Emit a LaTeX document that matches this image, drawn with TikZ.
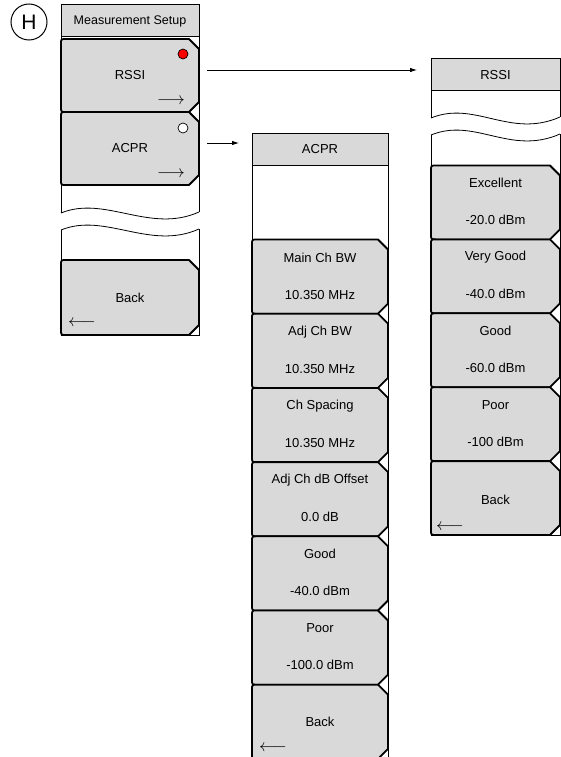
\documentclass[tikz,border=0pt]{standalone}
\usepackage{fontspec}
\setmainfont{Liberation Sans}
\usetikzlibrary{arrows.meta}
\definecolor{keygray}{RGB}{217,217,217}
% soft key: #1 left x, #2 top y, #3 right x, #4 bottom y
\newcommand{\softkey}[4]{%
  \filldraw[keyline] (#3-10,#2) -- (#1+5,#2) .. controls (#1,#2) .. (#1,#2+5)
    -- (#1,#4-5) .. controls (#1,#4) .. (#1+5,#4) -- (#3-10,#4)
    -- (#3,#4-10) -- (#3,#2+10) -- cycle;}
\begin{document}
\begin{tikzpicture}[x=1pt,y=-1pt,
  keyline/.style={draw=black, line width=1.8pt, fill=keygray, line join=round},
  frameline/.style={draw=black, line width=0.8pt},
  wave/.style={draw=black, line width=0.8pt},
  titlebox/.style={draw=black, line width=1pt, fill=keygray, inner sep=0pt,
    font=\fontsize{13}{15}\selectfont},
  txt/.style={inner sep=0pt, font=\fontsize{13}{15}\selectfont},
  arr/.style={inner sep=0pt, font=\fontsize{17.5}{17.5}\selectfont},
  link/.style={draw=black, line width=0.8pt, -{Latex[length=7pt,width=4.5pt]}}]
\useasboundingbox (0,0) rectangle (561,757);

% H marker
\node[draw, circle, line width=1pt, minimum size=36pt, inner sep=0pt,
  font=\fontsize{21}{21}\selectfont] (hmark) at (29,22) {H};

% ---------------- Left menu: Measurement Setup ----------------
\draw[frameline] (61,37) -- (61,213);
\draw[frameline] (199,37) -- (199,212);
\draw[frameline] (61,230) -- (61,335) -- (199,335) -- (199,229);
\draw[wave] (61,213) .. controls (105,195) and (150,234) .. (199,212);
\draw[wave] (61,230) .. controls (105,212) and (150,251) .. (199,229);
\node[titlebox, minimum width=138pt, minimum height=32pt,
  font=\fontsize{12.5}{15}\selectfont] (mstitle) at (130,21) {Measurement Setup};
\softkey{61}{39}{199}{112}
\softkey{61}{112}{199}{185}
\softkey{61}{260}{199}{335}
\node[txt] (krssi) at (130,75) {RSSI};
\node[arr] (krssiarr) at (171,101) {$\longrightarrow$};
\node[circle, draw, fill=red, minimum size=10pt, inner sep=0pt, line width=0.7pt] (rdot) at (183,54) {};
\node[txt] (kacpr) at (130,148) {ACPR};
\node[arr] (kacprarr) at (171,174) {$\longrightarrow$};
\node[circle, draw, fill=white, minimum size=10pt, inner sep=0pt, line width=0.7pt] (odot) at (183,128) {};
\node[txt] (kback1) at (130,298) {Back};
\node[arr] (kback1arr) at (82,323) {$\longleftarrow$};

% ---------------- Middle menu: ACPR ----------------
\draw[frameline] (252,165) -- (252,762);
\draw[frameline] (388,165) -- (388,762);
\node[titlebox, minimum width=136pt, minimum height=32pt] (acprtitle) at (320,149) {ACPR};
\foreach \k in {0,...,6}{
  \pgfmathsetmacro{\t}{239.5+74.2*\k}
  \pgfmathsetmacro{\b}{\t+74.2}
  \softkey{252}{\t}{388}{\b}
}
\node[txt] (m1a) at (320,258) {Main Ch BW};
\node[txt] (m1b) at (320,295) {10.350 MHz};
\node[txt] (m2a) at (320,332) {Adj Ch BW};
\node[txt] (m2b) at (320,369) {10.350 MHz};
\node[txt] (m3a) at (320,406) {Ch Spacing};
\node[txt] (m3b) at (320,443) {10.350 MHz};
\node[txt] (m4a) at (320,480) {Adj Ch dB Offset};
\node[txt] (m4b) at (320,517) {0.0 dB};
\node[txt] (m5a) at (320,554) {Good};
\node[txt] (m5b) at (320,591) {-40.0 dBm};
\node[txt] (m6a) at (320,628) {Poor};
\node[txt] (m6b) at (320,665) {-100.0 dBm};
\node[txt] (m7a) at (320,722) {Back};
\node[arr] (m7arr) at (273,748) {$\longleftarrow$};

% ---------------- Right menu: RSSI ----------------
\draw[frameline] (431,91) -- (431,118);
\draw[frameline] (560,91) -- (560,117);
\draw[frameline] (431,135) -- (431,535) -- (560,535) -- (560,134);
\draw[wave] (431,118) .. controls (475,100) and (510,139) .. (560,117);
\draw[wave] (431,135) .. controls (475,117) and (510,156) .. (560,134);
\node[titlebox, minimum width=129pt, minimum height=32pt] (rssititle) at (495.5,75) {RSSI};
\foreach \k in {0,...,4}{
  \pgfmathsetmacro{\t}{165.5+73.9*\k}
  \pgfmathsetmacro{\b}{\t+73.9}
  \softkey{431}{\t}{560}{\b}
}
\node[txt] (r1a) at (495.5,183) {Excellent};
\node[txt] (r1b) at (495.5,220) {-20.0 dBm};
\node[txt] (r2a) at (495.5,257) {Very Good};
\node[txt] (r2b) at (495.5,294) {-40.0 dBm};
\node[txt] (r3a) at (495.5,331) {Good};
\node[txt] (r3b) at (495.5,368) {-60.0 dBm};
\node[txt] (r4a) at (495.5,405) {Poor};
\node[txt] (r4b) at (495.5,442) {-100 dBm};
\node[txt] (r5a) at (495.5,500) {Back};
\node[arr] (r5arr) at (450,527) {$\longleftarrow$};

% ---------------- Connectors ----------------
\coordinate (rssiout) at (207,70);
\coordinate (rssiin) at (417,70);
\coordinate (acprout) at (207,143);
\coordinate (acprin) at (239,143);
\draw[link] (rssiout) -- (rssiin);
\draw[link] (acprout) -- (acprin);
\end{tikzpicture}
\end{document}
